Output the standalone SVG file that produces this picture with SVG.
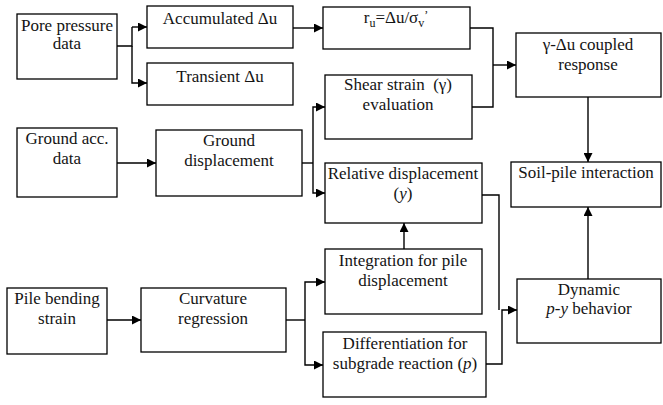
<svg xmlns="http://www.w3.org/2000/svg" width="663" height="405" viewBox="0 0 663 405">
<defs>
<marker id="ah" viewBox="0 0 10 10" refX="10" refY="5" markerWidth="9" markerHeight="9" markerUnits="userSpaceOnUse" orient="auto">
<path d="M0,0 L10,5 L0,10 z" fill="#000"/>
</marker>
<style>
.b{fill:#fff;stroke:#000;stroke-width:1.3}
.t{font-size:17px;fill:#141414;text-anchor:middle}
.c{fill:none;stroke:#000;stroke-width:1.4}
.a{marker-end:url(#ah)}
</style>
</defs>
<rect width="663" height="405" fill="#fff"/>
<g id="connectors">
<path class="c" d="M117,46 H132 V27"/>
<path class="c a" d="M132,27 H147"/>
<path class="c a" d="M132,46 V83 H147"/>
<path class="c a" d="M293,28 H323"/>
<path class="c" d="M470,28 H493 V107 H472"/>
<path class="c a" d="M493,65 H516"/>
<path class="c a" d="M117,163 H156"/>
<path class="c" d="M302,163 H313"/>
<path class="c a" d="M313,163 V107 H325"/>
<path class="c a" d="M313,163 V193 H325"/>
<path class="c a" d="M588,97 V162"/>
<path class="c a" d="M588,279 V207"/>
<path class="c" d="M482,195 H499 V310"/>
<path class="c a" d="M486,364 H502 V310 H517"/>
<path class="c a" d="M404,249 V223"/>
<path class="c a" d="M107,320 H141"/>
<path class="c" d="M286,320 H305"/>
<path class="c a" d="M305,320 V282 H325"/>
<path class="c a" d="M305,320 V365 H323"/>
</g>
<g font-family="Liberation Serif, Cambria, Georgia, FreeSerif, Noto Serif, serif">
<g id="n1"><rect class="b" x="17" y="14" width="100" height="65"/><text class="t" x="67" y="31">Pore pressure</text><text class="t" x="67" y="49">data</text></g>
<g id="n2"><rect class="b" x="147" y="6" width="146" height="42"/><text class="t" x="220" y="24">Accumulated Δu</text></g>
<g id="n3"><rect class="b" x="147" y="63" width="146" height="42"/><text class="t" x="220" y="82">Transient Δu</text></g>
<g id="n4"><rect class="b" x="323" y="7" width="147" height="42"/><text class="t" x="396" y="23">r<tspan font-size="12" dy="4">u</tspan><tspan dy="-4">=Δu/σ</tspan><tspan font-size="12" dy="4">v</tspan><tspan font-size="12" dy="-8">’</tspan></text></g>
<g id="n5"><rect class="b" x="516" y="33" width="145" height="64"/><text class="t" x="588" y="50">γ-Δu coupled</text><text class="t" x="588" y="70">response</text></g>
<g id="n6"><rect class="b" x="325" y="75" width="147" height="64"/><text class="t" x="398" y="90" xml:space="preserve">Shear strain  (γ)</text><text class="t" x="398" y="110">evaluation</text></g>
<g id="n7"><rect class="b" x="17" y="128" width="100" height="69"/><text class="t" x="67" y="144">Ground acc.</text><text class="t" x="67" y="164">data</text></g>
<g id="n8"><rect class="b" x="156" y="130" width="146" height="66"/><text class="t" x="229" y="146">Ground</text><text class="t" x="229" y="166">displacement</text></g>
<g id="n9"><rect class="b" x="325" y="163" width="157" height="60"/><text class="t" x="403" y="179">Relative displacement</text><text class="t" x="403" y="199">(<tspan font-style="italic">y</tspan>)</text></g>
<g id="n10"><rect class="b" x="511" y="162" width="150" height="45"/><text class="t" x="586" y="178">Soil-pile interaction</text></g>
<g id="n11"><rect class="b" x="7" y="288" width="100" height="66"/><text class="t" x="57" y="304">Pile bending</text><text class="t" x="57" y="324">strain</text></g>
<g id="n12"><rect class="b" x="141" y="288" width="145" height="64"/><text class="t" x="213" y="304">Curvature</text><text class="t" x="213" y="324">regression</text></g>
<g id="n13"><rect class="b" x="325" y="249" width="157" height="65"/><text class="t" x="403" y="266">Integration for pile</text><text class="t" x="403" y="286">displacement</text></g>
<g id="n14"><rect class="b" x="323" y="332" width="163" height="65"/><text class="t" x="405" y="349">Differentiation for</text><text class="t" x="405" y="369">subgrade reaction (<tspan font-style="italic">p</tspan>)</text></g>
<g id="n15"><rect class="b" x="517" y="279" width="144" height="64"/><text class="t" x="589" y="295">Dynamic</text><text class="t" x="589" y="314"><tspan font-style="italic">p-y</tspan> behavior</text></g>
</g>
</svg>
